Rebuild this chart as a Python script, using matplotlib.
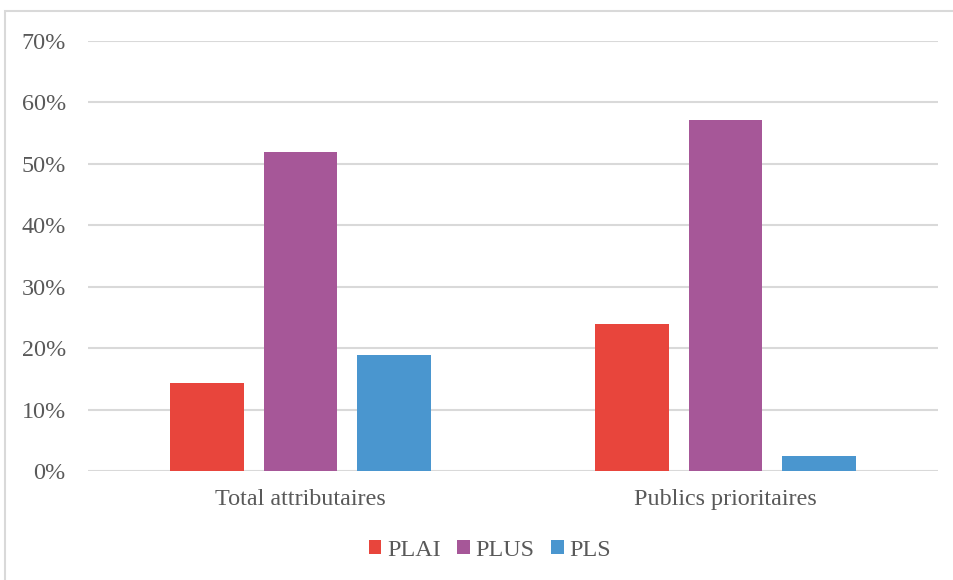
import numpy as np
import matplotlib.pyplot as plt
from matplotlib.patches import Rectangle
from matplotlib.ticker import PercentFormatter

# Share of allocations by loan type
categories = ["Total attributaires", "Publics prioritaires"]
series = ["PLAI", "PLUS", "PLS"]
plai = [14.3, 24.0]
plus = [51.9, 57.1]
pls = [18.9, 2.5]
values = [plai, plus, pls]
colors = ["#E8453C", "#A65798", "#4A96CF"]

plt.rcParams["font.family"] = ["Liberation Serif", "DejaVu Serif"]
text_color = "#595959"
grid_color = "#D9D9D9"
fs = 17.4

fig = plt.figure(figsize=(9.54, 5.8), dpi=100)
W, H = 954, 580
ax = fig.add_axes([88 / W, 1 - 471 / H, 850 / W, 430 / H])

# outer chart frame
fig.patches.append(Rectangle((5 / W, -0.01), 1, 1.01 - 11 / H, transform=fig.transFigure,
                             fill=False, edgecolor=grid_color, linewidth=1.5))

x = np.arange(len(categories))
width = 0.174
step = 0.221
for i, (name, vals) in enumerate(zip(series, values)):
    ax.bar(x + (i - 1) * step, vals, width=width, color=colors[i], label=name, zorder=3)

ax.set_xlim(-0.5, 1.5)
ax.set_ylim(0, 70)
ax.set_yticks(np.arange(0, 71, 10))
ax.yaxis.set_major_formatter(PercentFormatter(decimals=0))
ax.set_xticks(x)
ax.set_xticklabels(categories)
ax.grid(axis="y", color=grid_color, linewidth=1.5, zorder=0)
for s in ax.spines.values():
    s.set_visible(False)
ax.tick_params(length=0, labelsize=fs, labelcolor=text_color)
ax.tick_params(axis="y", pad=16)
ax.tick_params(axis="x", pad=13)

ax.legend(loc="center", bbox_to_anchor=(490 / W, 1 - 550 / H), bbox_transform=fig.transFigure,
          ncol=3, frameon=False, fontsize=fs, labelcolor=text_color,
          handlelength=0.5, handleheight=0.5, handletextpad=0.25, columnspacing=0.7)

fig.savefig("out.png", dpi=100)
